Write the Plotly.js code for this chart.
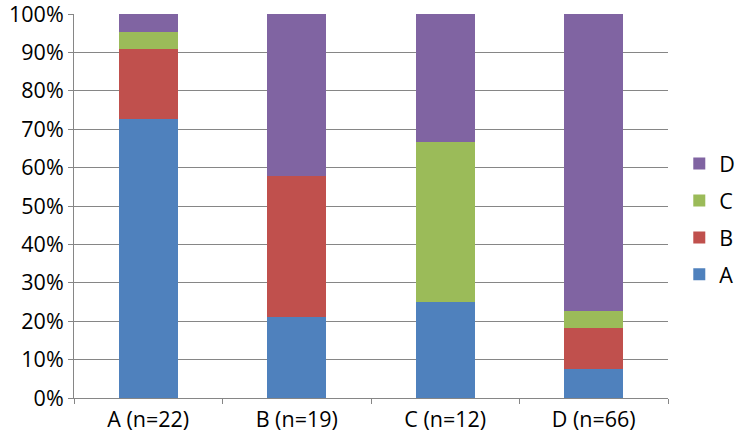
<!DOCTYPE html>
<html>
<head>
<meta charset="utf-8">
<script src="https://cdn.plot.ly/plotly-3.0.1.min.js"></script>
<style>html,body{margin:0;padding:0;background:#fff}#chart{width:735px;height:436px}</style>
</head>
<body>
<div id="chart"></div>
<script>
const categories = ["A (n=22)", "B (n=19)", "C (n=12)", "D (n=66)"];
const seriesNames = ["A", "B", "C", "D"];
const valuesA = [72.7, 21.1, 25.0, 7.6];
const valuesB = [18.2, 36.8, 0, 10.6];
const valuesC = [4.5, 0, 41.7, 4.5];
const valuesD = [4.5, 42.1, 33.3, 77.3];
const colors = ["#4F81BD", "#C0504D", "#9BBB59", "#8064A2"];
const yTickVals = [0, 10, 20, 30, 40, 50, 60, 70, 80, 90, 100];
const yTickText = ["0%", "10%", "20%", "30%", "40%", "50%", "60%", "70%", "80%", "90%", "100%"];

const allValues = [valuesA, valuesB, valuesC, valuesD];
const traces = seriesNames.map((name, i) => ({
  type: "bar",
  name: name,
  x: categories,
  y: allValues[i],
  legendgroup: name,
  legendrank: 10 - i,
  marker: {color: colors[i]},
  hoverinfo: "none"
}));

const font = "'Open Sans', sans-serif";
const fs = 21.5;
const layout = {
  width: 735, height: 436,
  margin: {l: 74, r: 67, t: 14, b: 38, pad: 0, autoexpand: false},
  barmode: "stack",
  bargap: 0.6,
  paper_bgcolor: "#fff",
  plot_bgcolor: "#fff",
  font: {family: font, size: fs, color: "#000"},
  xaxis: {
    type: "category",
    showline: true, linecolor: "#868686", linewidth: 1,
    ticks: "outside", tickson: "boundaries", ticklen: 5, tickcolor: "#868686",
    ticklabelstandoff: 2,
    showgrid: false, zeroline: false,
    tickfont: {family: font, size: fs, color: "#000"}
  },
  yaxis: {
    range: [0, 100],
    tickvals: yTickVals, ticktext: yTickText,
    ticklabeloverflow: "allow",
    showline: true, linecolor: "#868686", linewidth: 1,
    ticks: "outside", ticklen: 5, tickcolor: "#868686",
    showgrid: true, gridcolor: "#868686", gridwidth: 1,
    zeroline: false,
    tickfont: {family: font, size: fs, color: "#000"}
  },
  showlegend: true,
  legend: {
    x: 1.019, y: 0.664, xanchor: "left", yanchor: "top",
    traceorder: "grouped",
    tracegroupgap: 6,
    itemwidth: 30,
    font: {family: font, size: fs, color: "#000"},
    bgcolor: "rgba(0,0,0,0)"
  }
};

Plotly.newPlot("chart", traces, layout, {displayModeBar: false, staticPlot: true});
</script>
</body>
</html>
